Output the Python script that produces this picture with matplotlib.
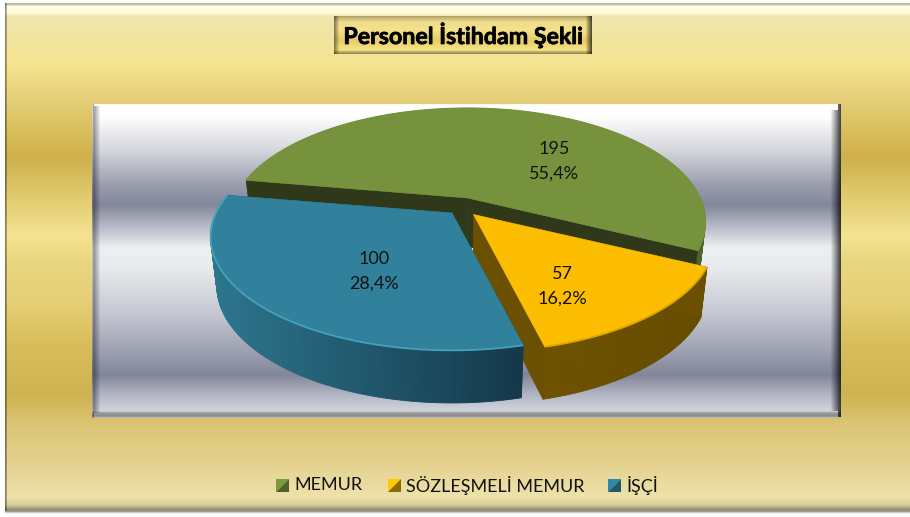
import numpy as np
import matplotlib
matplotlib.use("Agg")
import matplotlib.pyplot as plt
import matplotlib.patheffects as pe
from matplotlib.patches import Polygon, Rectangle
from matplotlib.colors import to_rgb

# ---- data ----
categories = ["MEMUR", "SÖZLEŞMELİ MEMUR", "İŞÇİ"]
values = [195, 57, 100]
title = "Personel İstihdam Şekli"

# ---- style ----
FONT = "Lato"
top_colors = ["#76923c", "#fdbd00", "#31819d"]
rim_colors = ["#76923c", "#e0a500", "#46a0bd"]
cut_colors = ["#2f3818", "#6a5000", "#1e5266"]
wall_colors = [("#5d7430", "#4f6428"), ("#6e5200", "#664c00"), ("#2c768e", "#15384b")]
legend_light = ["#7a9a3e", "#ffc800", "#2f86a8"]
legend_dark = ["#4f6228", "#8c6a00", "#215968"]
label_pos = [(554, 161), (562, 286), (374, 271)]
legend_marker_x = [276, 388, 608]
legend_text_x = [294, 406, 627]

# pie geometry, in pixels
P0 = (463.5, 208.0)
SHIFT = [(4.0, -10.0), (10.0, 6.5), (-11.5, 5.0)]
SCALE = [0.985, 1.0, 1.0]
CUT_ABOVE_WALL = [True, True, False]
A, B, K = 236.0, 108.5, 0.21
T0, WARP, WARP_C = -79.74, 12.3, -77.14
DROP, SX, SY = 48.5, 0.974, 1.03

# background colour stops
outer_stops = [(0, "#ffffff"), (2.5, "#ffffff"), (3, "#bdb8a4"), (5, "#c9c4ac"), (6, "#fffde6"), (13, "#fffbd6"),
               (16, "#f2e6b0"), (30, "#f0e5a5"), (65, "#f5e38f"), (100, "#e5cf78"), (135, "#d8bc58"),
               (158, "#cfb04d"), (180, "#d9bf60"), (235, "#f4e391"), (262, "#ead680"), (300, "#e5cf78"),
               (345, "#d9bd5a"), (395, "#d0b350"), (425, "#dcc575"), (460, "#e3d08c"), (497, "#eee2ab"),
               (505, "#d5cb98"), (510, "#8f8a70"), (512, "#a8a695"), (513, "#f4f4f4"), (517, "#ffffff")]
plot_stops = [(104, "#f4f4f4"), (105, "#ffffff"), (116, "#ffffff"), (150, "#d5d7dd"), (185, "#9a9dae"),
              (205, "#83879b"), (230, "#bfc2cd"), (248, "#eef0f0"), (270, "#e8e9ec"), (310, "#c8cad4"),
              (350, "#9fa2b3"), (375, "#82869a"), (395, "#b3b6c4"), (411, "#d2d4dc"), (413, "#9a9a9a"),
              (416, "#8a8a8a"), (418, "#c8c8c8")]
title_stops = [(16, "#a89a62"), (18, "#c9b877"), (22, "#efdc8c"), (30, "#f5e28a"), (40, "#e6cc68"), (46, "#f0da78"),
               (50, "#f8e488"), (52, "#b9a862"), (54, "#8f8250")]


def vgrad(stops, y0, y1):
    ys = np.arange(y0, y1) + 0.5
    pos = [s[0] for s in stops]
    cols = np.array([to_rgb(s[1]) for s in stops])
    return np.stack([np.interp(ys, pos, cols[:, i]) for i in range(3)], axis=1)[:, None, :]


def hshade(ax, x0, x1, y0, y1, a0, a1, z=2):
    n = max(int(x1 - x0), 2)
    im = np.zeros((1, n, 4))
    im[..., 3] = np.linspace(a0, a1, n)
    ax.imshow(im, extent=(x0, x1, y1, y0), aspect="auto", interpolation="bilinear", zorder=z)


fig = plt.figure(figsize=(9.1, 5.17), dpi=100)
ax = fig.add_axes([0, 0, 1, 1])

ax.imshow(vgrad(outer_stops, 0, 517), extent=(0, 910, 517, 0), aspect="auto", zorder=0)
ax.add_patch(Rectangle((0, 0), 5, 517, fc="white", ec="none", zorder=3))
hshade(ax, 5, 7, 3, 511, 0.42, 0.30)

# plot area
ax.imshow(vgrad(plot_stops, 104, 418), extent=(92, 841, 418, 104), aspect="auto", zorder=1)
hshade(ax, 92, 94, 104, 418, 0.18, 0.35)
hshade(ax, 94, 101, 106, 413, 0.35, 0.0)
hshade(ax, 830, 838, 110, 411, 0.0, 0.50)
hshade(ax, 838, 841, 104, 417, 0.6, 0.72)

# pie
total = float(sum(values))
sweeps = [360.0 * v / total for v in values]
edges = T0 + np.concatenate([[0.0], np.cumsum(sweeps)])


def warp(theta):
    return theta + WARP * np.sin(np.radians(theta - WARP_C))


def slice_geometry(i):
    ax0 = P0[0] + SHIFT[i][0]
    ay0 = P0[1] + SHIFT[i][1]
    th = np.radians(warp(np.linspace(edges[i], edges[i + 1], 160)))
    den = 1 + K * np.cos(th)
    dx = SCALE[i] * A * np.sin(th) / den
    dy = -B * np.cos(th) / den
    top = np.column_stack([ax0 + dx, ay0 + dy])
    bot = np.column_stack([ax0 + SX * dx, ay0 + DROP + SY * dy])
    return (ax0, ay0), top, bot


def draw_slice(i, z):
    (px, py), top, bot = slice_geometry(i)
    # cut faces
    base = (px, py + DROP)
    zcut = z + 0.15 if CUT_ABOVE_WALL[i] else z
    for e in (0, -1):
        ax.add_patch(Polygon([(px, py), top[e], bot[e], base], closed=True,
                             fc=cut_colors[i], ec=cut_colors[i], lw=0.4, zorder=zcut))
    # outer wall, segment by segment for the shading
    c0, c1 = np.array(to_rgb(wall_colors[i][0])), np.array(to_rgb(wall_colors[i][1]))
    xmin, xmax = top[:, 0].min(), top[:, 0].max()
    for j in range(len(top) - 1):
        f = (top[j, 0] - xmin) / (xmax - xmin)
        col = c0 + (c1 - c0) * f
        ax.add_patch(Polygon([top[j], top[j + 1], bot[j + 1], bot[j]], closed=True,
                             fc=col, ec=col, lw=0.6, zorder=z + 0.1))
    # top face
    ax.add_patch(Polygon(np.vstack([[(px, py)], top]), closed=True,
                         fc=top_colors[i], ec=top_colors[i], lw=0.4, zorder=z + 0.2))
    ax.plot(top[:, 0], top[:, 1], color=rim_colors[i], lw=1.3, zorder=z + 0.3, solid_capstyle="butt")


for i, z in zip([0, 1, 2], [4, 5, 6]):
    draw_slice(i, z)

# data labels
for v, (lx, ly) in zip(values, label_pos):
    pct = f"{100 * v / total:.1f}%".replace(".", ",")
    ax.text(lx, ly, f"{v}\n{pct}", ha="center", va="center", fontsize=13, family=FONT,
            color="#111111", linespacing=1.68, zorder=8)

# title box
ax.imshow(vgrad(title_stops, 16, 54), extent=(334, 592, 54, 16), aspect="auto", zorder=7)
hshade(ax, 334, 340, 16, 54, 0.45, 0.0, z=7.1)
hshade(ax, 585, 592, 16, 54, 0.0, 0.65, z=7.1)
ax.text(463, 35.5, title, ha="center", va="center", fontsize=16.7, fontweight="bold",
        family=FONT, color="black", zorder=8,
        path_effects=[pe.withStroke(linewidth=0.5, foreground="black")])

# legend
m = 13
for name, mx, tx, lc, dc in zip(categories, legend_marker_x, legend_text_x, legend_light, legend_dark):
    my = 479
    ax.add_patch(Polygon([(mx, my), (mx + m, my), (mx, my + m)], closed=True, fc=lc, ec="none", zorder=8))
    ax.add_patch(Polygon([(mx + m, my), (mx + m, my + m), (mx, my + m)], closed=True, fc=dc, ec="none", zorder=8))
    ax.text(tx, 485.5, name, ha="left", va="center", fontsize=13.0, family=FONT, color="#111111", zorder=8)

ax.set_xlim(0, 910)
ax.set_ylim(517, 0)
ax.axis("off")
fig.savefig("out.png", dpi=100)
